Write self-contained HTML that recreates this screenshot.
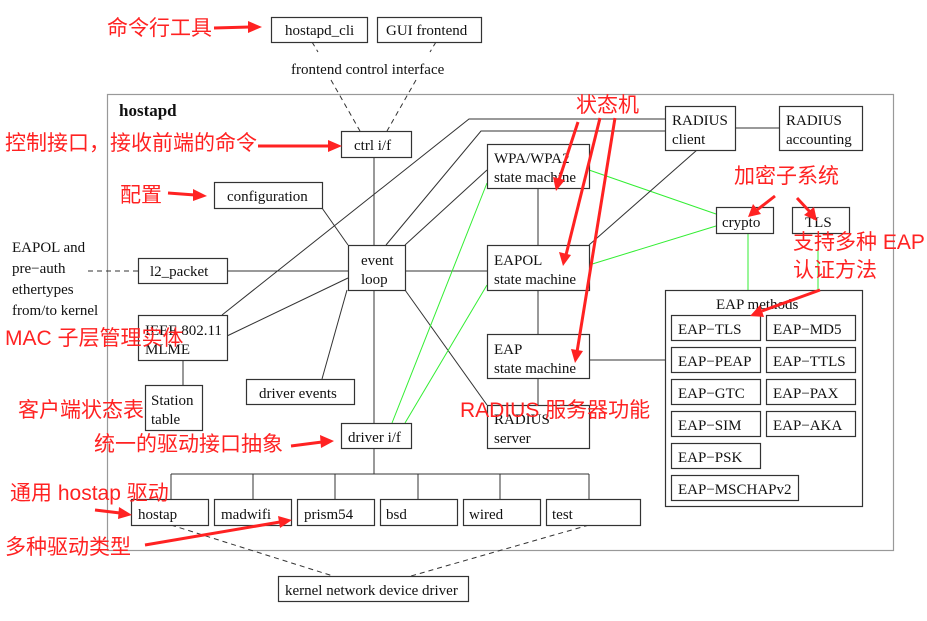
<!DOCTYPE html>
<html><head><meta charset="utf-8"><style>
body{margin:0;background:#fff}
svg{display:block}
.b{fill:#fff;stroke:#333;stroke-width:1.2}
text{font-family:"Liberation Serif",serif;font-size:15px;fill:#111}
.r{font-family:"Liberation Sans","Noto Sans CJK SC",sans-serif;font-size:21px;fill:#f22}
.l{stroke:#333;stroke-width:1;fill:none}
.g{stroke:#3e3;stroke-width:1;fill:none}
.d{stroke:#333;stroke-width:1;fill:none;stroke-dasharray:5,4}
.a{stroke:#f22;stroke-width:3;fill:none}
.h{fill:#f22}
</style></head><body>
<svg width="927" height="621" viewBox="0 0 927 621">
<rect x="107.5" y="94.5" width="786" height="456" fill="none" stroke="#999" stroke-width="1.2"/>
<line class="d" x1="331" y1="80" x2="360" y2="131"/>
<line class="d" x1="416" y1="80" x2="387" y2="131"/>
<line class="d" x1="312" y1="42" x2="318" y2="52"/>
<line class="d" x1="436" y1="42" x2="430" y2="52"/>
<line class="d" x1="88" y1="271" x2="138" y2="271"/>
<line class="l" x1="374" y1="157" x2="374" y2="474"/>
<line class="l" x1="171" y1="474" x2="589" y2="474"/>
<line class="l" x1="171" y1="474" x2="171" y2="499"/>
<line class="l" x1="253" y1="474" x2="253" y2="499"/>
<line class="l" x1="335" y1="474" x2="335" y2="499"/>
<line class="l" x1="418" y1="474" x2="418" y2="499"/>
<line class="l" x1="500" y1="474" x2="500" y2="499"/>
<line class="l" x1="589" y1="474" x2="589" y2="499"/>
<line class="l" x1="322" y1="208" x2="348" y2="245"/>
<line class="l" x1="227" y1="271" x2="487" y2="271"/>
<line class="l" x1="227" y1="336" x2="348" y2="278"/>
<polyline class="l" points="222,315 469,119 665,119"/>
<polyline class="l" points="386,245 481,131 665,131"/>
<line class="l" x1="405" y1="245" x2="487" y2="170"/>
<line class="l" x1="347" y1="290" x2="322" y2="379"/>
<line class="l" x1="405" y1="290" x2="487" y2="405"/>
<line class="g" x1="392" y1="423" x2="487" y2="183"/>
<line class="g" x1="405" y1="423" x2="487" y2="285"/>
<line class="g" x1="589" y1="170" x2="716" y2="214"/>
<line class="g" x1="589" y1="265" x2="716" y2="226"/>
<line class="g" x1="748" y1="233" x2="748" y2="290" stroke="#9e9"/>
<line class="g" x1="818" y1="233" x2="818" y2="290" stroke="#9e9"/>
<line class="l" x1="538" y1="188" x2="538" y2="405"/>
<line class="l" x1="589" y1="360" x2="665" y2="360"/>
<line class="l" x1="697" y1="150" x2="589" y2="245"/>
<line class="l" x1="735" y1="128" x2="779" y2="128"/>
<line class="l" x1="183" y1="360" x2="183" y2="385"/>
<line class="d" x1="171" y1="525" x2="333" y2="576"/>
<line class="d" x1="589" y1="525" x2="411" y2="576"/>
<rect class="b" x="271.5" y="17.5" width="96" height="25"/><text x="285" y="35">hostapd_cli</text>
<rect class="b" x="377.5" y="17.5" width="104" height="25"/><text x="386" y="35">GUI frontend</text>
<text x="291" y="74">frontend control interface</text>
<text x="119" y="116" style="font-weight:bold;font-size:17px">hostapd</text>
<rect class="b" x="341.5" y="131.5" width="70" height="26"/><text x="354" y="150">ctrl i/f</text>
<rect class="b" x="214.5" y="182.5" width="108" height="26"/><text x="227" y="201">configuration</text>
<rect class="b" x="138.5" y="258.5" width="89" height="25"/><text x="150" y="276">l2_packet</text>
<rect class="b" x="348.5" y="245.5" width="57" height="45"/><text x="361" y="265">event</text><text x="361" y="284">loop</text>
<rect class="b" x="138.5" y="315.5" width="89" height="45"/><text x="145" y="335">IEEE 802.11</text><text x="145" y="354">MLME</text>
<rect class="b" x="145.5" y="385.5" width="57" height="45"/><text x="151" y="405">Station</text><text x="151" y="424">table</text>
<rect class="b" x="246.5" y="379.5" width="108" height="25"/><text x="259" y="398">driver events</text>
<rect class="b" x="341.5" y="423.5" width="70" height="25"/><text x="348" y="442">driver i/f</text>
<rect class="b" x="487.5" y="144.5" width="102" height="44"/><text x="494" y="163">WPA/WPA2</text><text x="494" y="182">state machine</text>
<rect class="b" x="487.5" y="245.5" width="102" height="45"/><text x="494" y="265">EAPOL</text><text x="494" y="284">state machine</text>
<rect class="b" x="487.5" y="334.5" width="102" height="44"/><text x="494" y="354">EAP</text><text x="494" y="373">state machine</text>
<rect class="b" x="487.5" y="405.5" width="102" height="43"/><text x="494" y="424">RADIUS</text><text x="494" y="443">server</text>
<rect class="b" x="665.5" y="106.5" width="70" height="44"/><text x="672" y="125">RADIUS</text><text x="672" y="144">client</text>
<rect class="b" x="779.5" y="106.5" width="83" height="44"/><text x="786" y="125">RADIUS</text><text x="786" y="144">accounting</text>
<rect class="b" x="716.5" y="207.5" width="57" height="26"/><text x="722" y="227">crypto</text>
<rect class="b" x="792.5" y="207.5" width="57" height="26"/><text x="805" y="227">TLS</text>
<rect class="b" x="665.5" y="290.5" width="197" height="216"/><text x="716" y="309">EAP methods</text>
<rect class="b" x="671.5" y="315.5" width="89" height="25"/><text x="678" y="334">EAP−TLS</text>
<rect class="b" x="766.5" y="315.5" width="89" height="25"/><text x="773" y="334">EAP−MD5</text>
<rect class="b" x="671.5" y="347.5" width="89" height="25"/><text x="678" y="366">EAP−PEAP</text>
<rect class="b" x="766.5" y="347.5" width="89" height="25"/><text x="773" y="366">EAP−TTLS</text>
<rect class="b" x="671.5" y="379.5" width="89" height="25"/><text x="678" y="398">EAP−GTC</text>
<rect class="b" x="766.5" y="379.5" width="89" height="25"/><text x="773" y="398">EAP−PAX</text>
<rect class="b" x="671.5" y="411.5" width="89" height="25"/><text x="678" y="430">EAP−SIM</text>
<rect class="b" x="766.5" y="411.5" width="89" height="25"/><text x="773" y="430">EAP−AKA</text>
<rect class="b" x="671.5" y="443.5" width="89" height="25"/><text x="678" y="462">EAP−PSK</text>
<rect class="b" x="671.5" y="475.5" width="127" height="25"/><text x="678" y="494">EAP−MSCHAPv2</text>
<rect class="b" x="131.5" y="499.5" width="77" height="26"/><text x="138" y="519">hostap</text>
<rect class="b" x="214.5" y="499.5" width="77" height="26"/><text x="221" y="519">madwifi</text>
<rect class="b" x="297.5" y="499.5" width="77" height="26"/><text x="304" y="519">prism54</text>
<rect class="b" x="380.5" y="499.5" width="77" height="26"/><text x="386" y="519">bsd</text>
<rect class="b" x="463.5" y="499.5" width="77" height="26"/><text x="469" y="519">wired</text>
<rect class="b" x="546.5" y="499.5" width="94" height="26"/><text x="552" y="519">test</text>
<rect class="b" x="278.5" y="576.5" width="190" height="25"/><text x="285" y="595">kernel network device driver</text>
<text x="12" y="252">EAPOL and</text><text x="12" y="273">pre−auth</text><text x="12" y="294">ethertypes</text><text x="12" y="315">from/to kernel</text>
<text class="r" x="107" y="35">命令行工具</text>
<text class="r" x="5" y="150">控制接口，接收前端的命令</text>
<text class="r" x="120" y="202">配置</text>
<text class="r" x="5" y="345">MAC 子层管理实体</text>
<text class="r" x="18" y="417">客户端状态表</text>
<text class="r" x="94" y="451">统一的驱动接口抽象</text>
<text class="r" x="10" y="500">通用 hostap 驱动</text>
<text class="r" x="5" y="554">多种驱动类型</text>
<text class="r" x="576" y="112">状态机</text>
<text class="r" x="734" y="183">加密子系统</text>
<text class="r" x="793" y="249">支持多种 EAP</text>
<text class="r" x="793" y="277">认证方法</text>
<text class="r" x="460" y="417">RADIUS 服务器功能</text>
<g>
<line class="a" x1="214" y1="28" x2="250" y2="27"/><polygon class="h" points="262,27 248,21 248,33"/>
<line class="a" x1="258" y1="146" x2="330" y2="146"/><polygon class="h" points="342,146 328,140 328,152"/>
<line class="a" x1="168" y1="193" x2="195" y2="195"/><polygon class="h" points="207,196 193,189 193,201"/>
<line class="a" x1="291" y1="446" x2="322" y2="442"/><polygon class="h" points="334,441 320,435 321,448"/>
<line class="a" x1="95" y1="510" x2="120" y2="513"/><polygon class="h" points="132,515 119,507 118,519"/>
<line class="a" x1="145" y1="545" x2="280" y2="522"/><polygon class="h" points="292,520 278,516 280,528"/>
<line class="a" x1="578" y1="122" x2="559" y2="180"/><polygon class="h" points="556,191 553,177 565,180"/>
<line class="a" x1="600" y1="118" x2="566" y2="255"/><polygon class="h" points="563,266 559,252 571,255"/>
<line class="a" x1="615" y1="118" x2="577" y2="352"/><polygon class="h" points="575,363 571,349 583,351"/>
<line class="a" x1="775" y1="196" x2="757" y2="210"/><polygon class="h" points="748,217 753,204 761,214"/>
<line class="a" x1="797" y1="198" x2="810" y2="212"/><polygon class="h" points="817,221 804,215 814,207"/>
<line class="a" x1="820" y1="290" x2="762" y2="311"/><polygon class="h" points="750,316 760,305 764,317"/>
</g>
</svg>
</body></html>
